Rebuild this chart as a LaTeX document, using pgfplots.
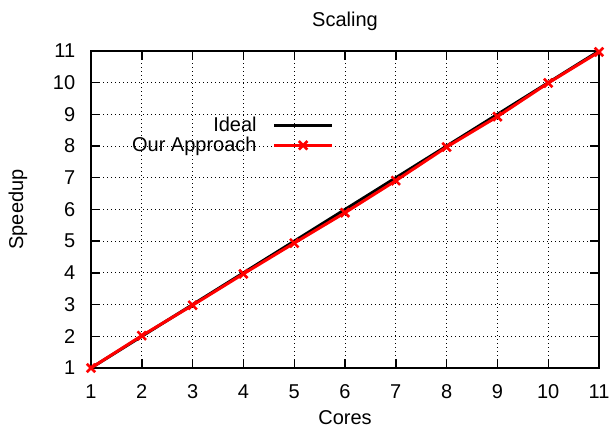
\documentclass[border=0pt]{standalone}
\usepackage{pgfplots}
\pgfplotsset{compat=1.18}
\usepackage{fontspec}
\setmainfont{Liberation Sans}
\newcommand{\fs}{\fontsize{20bp}{22bp}\selectfont}
\begin{document}
\fs
\begin{tikzpicture}
\useasboundingbox (0,0) rectangle (613bp,427bp);
\begin{axis}[
  at={(91bp,59bp)}, anchor=south west,
  scale only axis, width=508bp, height=317bp,
  xmin=1, xmax=11, ymin=1, ymax=11,
  xtick={1,...,11}, ytick={1,...,11},
  /pgf/number format/assume math mode=true,
  ticklabel style={font=\fs},
  xticklabel style={anchor=center, yshift=-24bp},
  yticklabel style={anchor=east, xshift=-9bp},
  axis line style={line width=1.8bp},
  major tick length=9bp,
  every tick/.style={black, line width=1.4bp},
  tick align=inside,
  grid=major,
  major grid style={black, line width=1bp, dash pattern=on 1bp off 3bp},
  title={Scaling},
  title style={font=\fs, at={(axis description cs:0.5,1.076)}, anchor=center, yshift=0pt},
  xlabel={Cores},
  xlabel style={font=\fs, at={(axis description cs:0.5,-0.155)}, anchor=center, inner sep=0pt},
  ylabel={Speedup},
  ylabel style={font=\fs, at={(axis description cs:-0.1437,0.5)}, anchor=center},
  legend plot pos=right,
  legend cell align=right,
  legend style={draw=none, fill=none, at={(axis description cs:0.478,0.80)}, anchor=north east,
    font=\fs, inner sep=0pt, row sep=-1.5bp, column sep=8bp,
    nodes={inner xsep=8bp, inner ysep=2bp}},
  legend image code/.code={\draw[mark repeat=2,mark phase=2] plot coordinates {(0bp,0bp)(29bp,0bp)(58bp,0bp)};},
]
\addplot[black, line width=3bp, mark=none] coordinates {
(1,1)(2,2)(3,3)(4,4)(5,5)(6,6)(7,7)(8,8)(9,9)(10,10)(11,11)};
\addlegendentry{Ideal}
\addplot[red, line width=3bp, mark=x, mark size=6bp, mark options={line width=2.6bp}] coordinates {
(1,1)(2,2.02)(3,2.98)(4,3.97)(5,4.94)(6,5.90)(7,6.91)(8,7.97)(9,8.93)(10,9.99)(11,10.97)};
\addlegendentry{Our Approach}
\end{axis}
\end{tikzpicture}
\end{document}
